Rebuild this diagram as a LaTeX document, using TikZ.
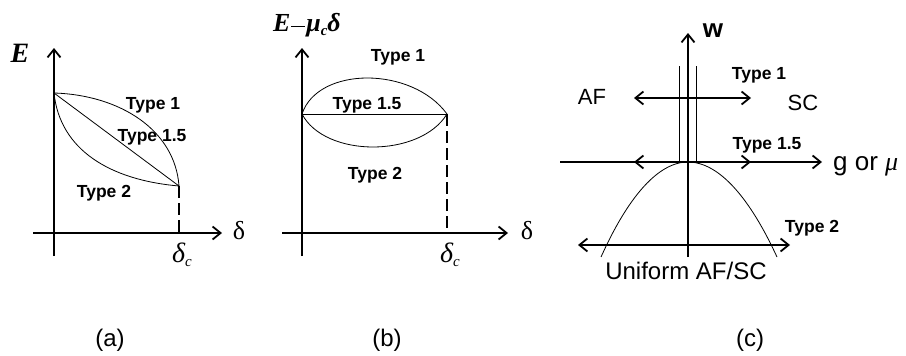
\documentclass[tikz,border=0pt]{standalone}
\usepackage{fontspec}
\setmainfont{Liberation Sans}
\newfontfamily\tms{Liberation Serif}
\usetikzlibrary{arrows.meta}
\begin{document}
\begin{tikzpicture}[x=1pt,y=-1pt,
  axis/.style={line width=1.8pt,-{Straight Barb[length=8pt,width=13pt]}},
  dbl/.style={line width=1.8pt,{Straight Barb[length=8pt,width=13pt]}-{Straight Barb[length=8pt,width=13pt]}},
  curve/.style={line width=0.8pt},
  dsh/.style={line width=1.4pt,dash pattern=on 12pt off 5pt},
  typ/.style={font=\fontsize{17.5}{17.5}\selectfont\bfseries,inner sep=0pt},
  lbl/.style={font=\fontsize{22}{22}\selectfont,inner sep=0pt},
  captext/.style={font=\fontsize{24}{24}\selectfont,inner sep=0pt},
  mth/.style={font=\fontsize{26}{26}\selectfont\tms,inner sep=0pt}]
\useasboundingbox[fill=white] (0,0) rectangle (906,356);

% ---------------- panel (a)
\coordinate (aYb) at (54,256);
\coordinate (aYt) at (54,48);
\coordinate (aXl) at (33,233);
\coordinate (aXr) at (222,233);
\coordinate (aP) at (54,93);
\coordinate (aQ) at (179,186);
\coordinate (aD) at (179,233);
\draw[axis] (aYb) -- (aYt);
\draw[axis] (aXl) -- (aXr);
\draw[curve] (aP) .. controls (120,95) and (175,130) .. (aQ);
\draw[curve] (aP) -- (aQ);
\draw[curve] (aP) .. controls (60,150) and (110,180) .. (aQ);
\draw[dsh] (aQ) -- (aD);
\node[mth,font=\fontsize{28}{28}\selectfont\tms\bfseries\itshape,anchor=base] (aE) at (20,62) {E};
\node[mth,anchor=base] (ad) at (239,239) {δ};
\node[mth,anchor=base,font=\fontsize{28}{28}\selectfont\tms] (adc) at (182,262) {\itshape δ\raisebox{-0.35ex}{\fontsize{15}{15}\selectfont c}};
\node[typ] (a1) at (153,105) {Type 1};
\node[typ] (a15) at (152,137) {Type 1.5};
\node[typ] (a2) at (104,193) {Type 2};
\node[captext] (acap) at (110,340) {(a)};

% ---------------- panel (b)
\coordinate (bYb) at (302,256);
\coordinate (bYt) at (302,48);
\coordinate (bXl) at (282,233);
\coordinate (bXr) at (508,233);
\coordinate (bL) at (302,114);
\coordinate (bR) at (447,114);
\coordinate (bD) at (447,233);
\draw[axis] (bYb) -- (bYt);
\draw[axis] (bXl) -- (bXr);
\draw[curve] (bL) .. controls (318,66) and (412,66) .. (bR);
\draw[curve] (bL) -- (bR);
\draw[curve] (bL) .. controls (325,158) and (420,158) .. (bR);
\draw[dsh] (bR) -- (bD);
\node[mth,anchor=base,font=\fontsize{26}{26}\selectfont\tms\bfseries\itshape] (bE) at (307,31)
  {E\kern0.5pt\rule[0.3ex]{0.55em}{1.3pt}\kern1pt μ\raisebox{-0.35ex}{\fontsize{15}{15}\selectfont c}δ};
\node[mth,anchor=base] (bd) at (527,239) {δ};
\node[mth,anchor=base,font=\fontsize{28}{28}\selectfont\tms] (bdc) at (450,262) {\itshape δ\raisebox{-0.35ex}{\fontsize{15}{15}\selectfont c}};
\node[typ] (b1) at (398,57) {Type 1};
\node[typ] (b15) at (367,105) {Type 1.5};
\node[typ] (b2) at (375,175) {Type 2};
\node[captext] (bcap) at (387,340) {(b)};

% ---------------- panel (c)
\coordinate (cYb) at (688,257);
\coordinate (cYt) at (688,33);
\coordinate (cXl) at (560,162);
\coordinate (cXr) at (822,162);
\draw[axis] (cYb) -- (cYt);
\draw[axis] (cXl) -- (cXr);
\coordinate (cV1b) at (679,162);
\coordinate (cV1t) at (679,66);
\coordinate (cV2b) at (696,162);
\coordinate (cV2t) at (696,66);
\draw[curve] (cV1b) -- (cV1t);
\draw[curve] (cV2b) -- (cV2t);
\coordinate (cPl) at (601,257);
\coordinate (cPv) at (688,162);
\coordinate (cPr) at (777,257);
\draw[curve] (cPl) parabola bend (cPv) (cPr);
\coordinate (c1l) at (634,98);
\coordinate (c1r) at (751,98);
\coordinate (c15l) at (634,162);
\coordinate (c15r) at (751,162);
\coordinate (c2l) at (578,245);
\coordinate (c2r) at (790,245);
\draw[dbl] (c1l) -- (c1r);
\draw[dbl] (c15l) -- (c15r);
\draw[dbl] (c2l) -- (c2r);
\node[lbl,font=\fontsize{26}{26}\selectfont\bfseries] (cw) at (713,31) {w};
\node[lbl,anchor=base west,font=\fontsize{26}{26}\selectfont] (cg) at (833,170) {g or {\tms\itshape μ}};
\node[lbl] (caf) at (592,97) {AF};
\node[lbl] (csc) at (803,103) {SC};
\node[typ] (c1) at (759,75) {Type 1};
\node[typ] (c15) at (767,145) {Type 1.5};
\node[typ] (c2) at (812,228) {Type 2};
\node[lbl,anchor=base,font=\fontsize{24}{24}\selectfont] (cu) at (686,279) {Uniform AF/SC};
\node[captext] (ccap) at (750,340) {(c)};
\end{tikzpicture}
\end{document}
